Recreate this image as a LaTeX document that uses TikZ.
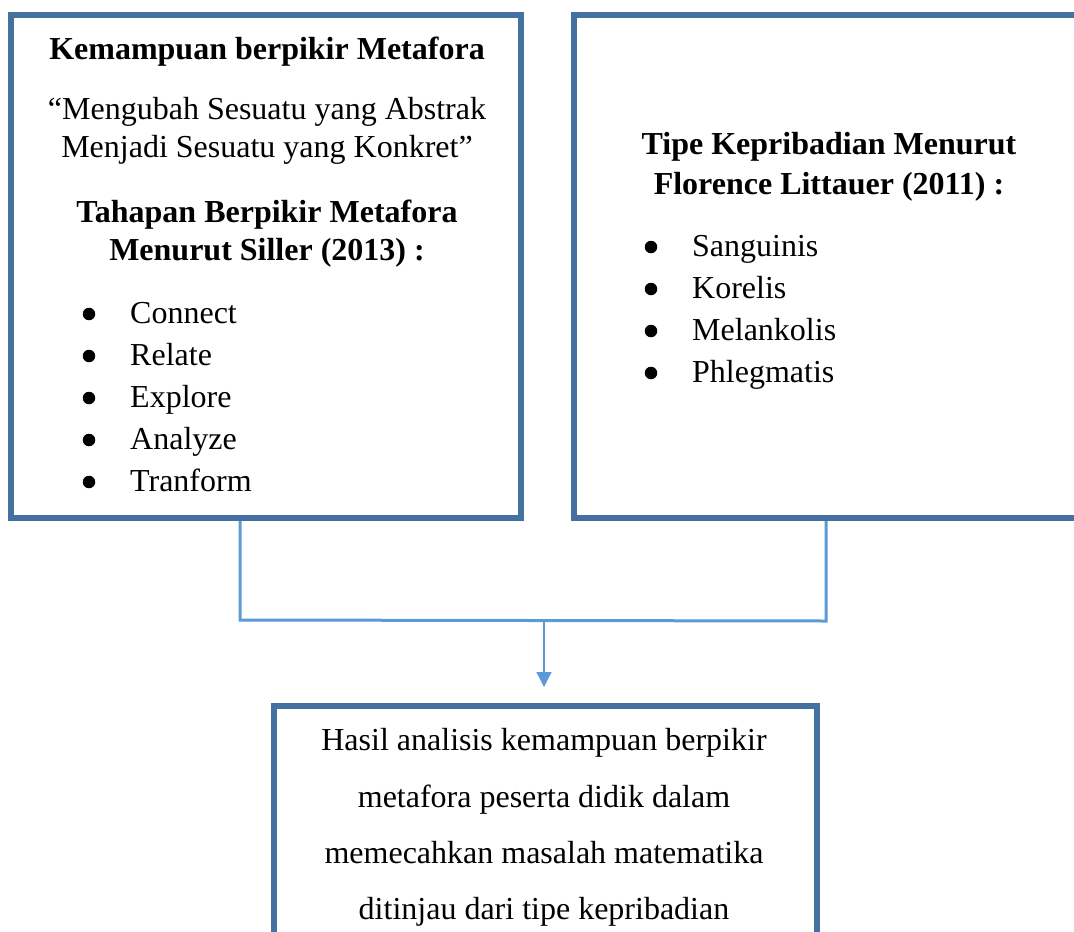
\documentclass[tikz,border=0pt]{standalone}
\usepackage{fontspec}
\setmainfont{Liberation Serif}
\usetikzlibrary{arrows.meta}
\definecolor{boxblue}{RGB}{68,114,160}
\definecolor{linkblue}{RGB}{91,155,213}
\tikzset{
  box/.style={draw=boxblue, line width=6pt, inner sep=0pt},
  txt/.style={anchor=base, inner sep=0pt, font=\fontsize{32}{42}\selectfont},
  hd/.style={txt, font=\fontsize{32}{42}\selectfont\bfseries},
  itm/.style={txt, anchor=base west},
  bul/.style={circle, fill=black, inner sep=0pt, minimum size=12.5pt},
  link/.style={draw=linkblue, line width=3pt},
  arr/.style={draw=linkblue, line width=1.3pt, -{Triangle[width=15pt,length=15pt]}}
}
\begin{document}
\begin{tikzpicture}[x=1pt,y=-1pt]
\useasboundingbox (0,0) rectangle (1074,932);
\clip (0,0) rectangle (1074,932);
% boxes
\node[box, minimum width=510.5pt, minimum height=503pt] (L) at (265.75,266.5) {};
\node[box, minimum width=506pt, minimum height=503pt] (R) at (827,266.5) {};
\node[box, minimum width=543pt, minimum height=254pt] (B) at (545.5,833) {};
% left box text
\node[hd] (l1) at (267,59) {Kemampuan berpikir Metafora};
\node[txt] (l2) at (267,119) {``Mengubah Sesuatu yang Abstrak};
\node[txt] (l3) at (267,157) {Menjadi Sesuatu yang Konkret''};
\node[hd] (l4) at (267,222) {Tahapan Berpikir Metafora};
\node[hd] (l5) at (267,260) {Menurut Siller (2013) :};
\foreach \t/\y [count=\i] in {Connect/323,Relate/365,Explore/407,Analyze/449,Tranform/491}{
  \node[bul] (lb\i) at (89,\y-9) {};
  \node[itm] (li\i) at (130,\y) {\t};
}
% right box text
\node[hd] (r1) at (829,154) {Tipe Kepribadian Menurut};
\node[hd] (r2) at (829,194) {Florence Littauer (2011) :};
\foreach \t/\y [count=\i] in {Sanguinis/256,Korelis/298,Melankolis/340,Phlegmatis/382}{
  \node[bul] (rb\i) at (651,\y-9) {};
  \node[itm] (ri\i) at (692,\y) {\t};
}
% bottom box text
\node[txt] (b1) at (544,750) {Hasil analisis kemampuan berpikir};
\node[txt] (b2) at (544,807) {metafora peserta didik dalam};
\node[txt] (b3) at (544,863) {memecahkan masalah matematika};
\node[txt] (b4) at (544,919) {ditinjau dari tipe kepribadian};
% connectors
\coordinate (jl) at (240,620);
\coordinate (jr) at (826,621);
\coordinate (jm) at (544,620.5);
\coordinate (tip) at (544,687);
\draw[link] (L.south -| jl) -- (jl) -- (jr) -- (R.south -| jr);
\draw[arr] (jm) -- (tip);
\end{tikzpicture}
\end{document}
